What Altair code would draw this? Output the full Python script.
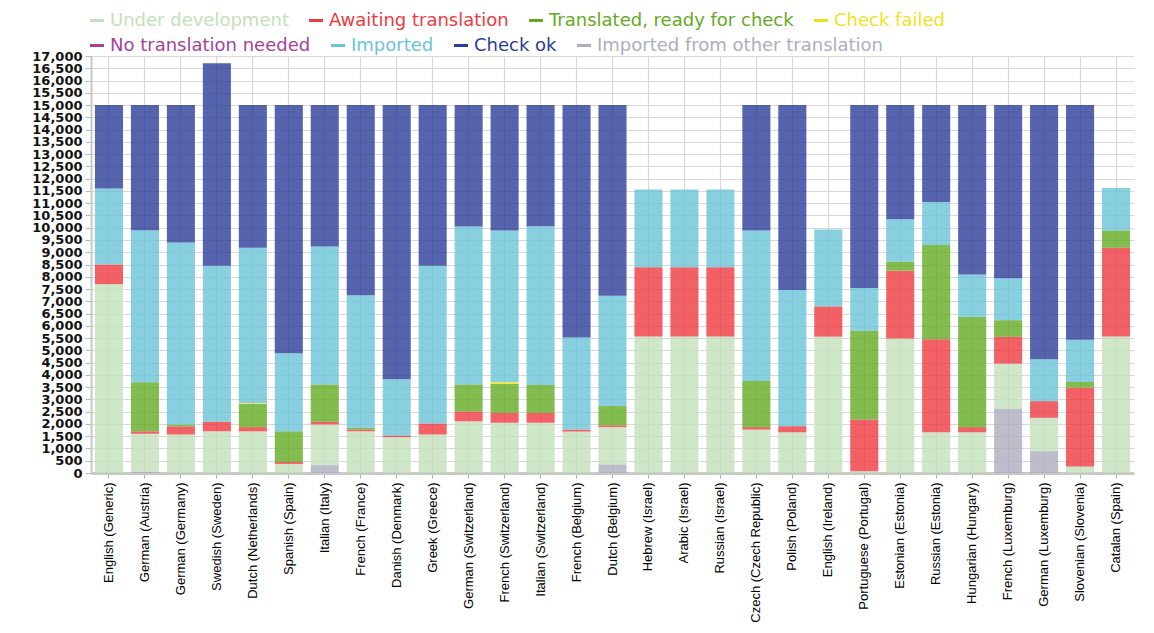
import altair as alt
import pandas as pd

categories = ["English (Generic)", "German (Austria)", "German (Germany)", "Swedish (Sweden)",
              "Dutch (Netherlands)", "Spanish (Spain)", "Italian (Italy)", "French (France)",
              "Danish (Denmark)", "Greek (Greece)", "German (Switzerland)", "French (Switzerland)",
              "Italian (Switzerland)", "French (Belgium)", "Dutch (Belgium)", "Hebrew (Israel)",
              "Arabic (Israel)", "Russian (Israel)", "Czech (Czech Republic)", "Polish (Poland)",
              "English (Ireland)", "Portuguese (Portugal)", "Estonian (Estonia)", "Russian (Estonia)",
              "Hungarian (Hungary)", "French (Luxemburg)", "German (Luxemburg)", "Slovenian (Slovenia)",
              "Catalan (Spain)"]

imported_other = [0, 50, 0, 0, 0, 0, 320, 0, 0, 0, 0, 0, 0, 0, 340, 0, 0, 0, 0, 0, 0, 0, 0, 0, 0, 2620, 890, 0, 0]
under_dev = [7700, 1550, 1570, 1700, 1700, 370, 1660, 1700, 1460, 1570, 2110, 2050, 2050, 1690, 1530,
             5560, 5560, 5560, 1770, 1660, 5560, 70, 5480, 1660, 1660, 1840, 1360, 270, 5560]
awaiting = [800, 100, 330, 390, 170, 80, 110, 70, 70, 450, 400, 400, 400, 80, 70,
            2830, 2830, 2830, 100, 250, 1230, 2110, 2770, 3790, 210, 1090, 680, 3210, 3620]
translated = [0, 2000, 80, 0, 950, 1250, 1520, 70, 0, 0, 1100, 1190, 1140, 0, 790,
              0, 0, 0, 1880, 0, 0, 3620, 370, 3850, 4500, 680, 0, 230, 710]
check_failed = [0, 0, 0, 0, 30, 0, 0, 0, 0, 0, 0, 70, 0, 0, 0,
                0, 0, 0, 0, 0, 0, 0, 0, 0, 0, 0, 0, 0, 0]
no_translation = [0] * 29
imported = [3100, 6200, 7420, 6360, 6330, 3180, 5620, 5410, 2290, 6430, 6440, 6180, 6470, 3750, 4500,
            3170, 3170, 3170, 6140, 5550, 3140, 1740, 1720, 1750, 1720, 1710, 1710, 1720, 1730]
check_ok = [3400, 5100, 5600, 8250, 5820, 10120, 5770, 7750, 11180, 6550, 4950, 5110, 4940, 9480, 7770,
            0, 0, 0, 5110, 7540, 0, 7460, 4660, 3950, 6910, 7060, 10360, 9570, 0]

statuses = ["Under development", "Awaiting translation", "Translated, ready for check", "Check failed",
            "No translation needed", "Imported", "Check ok", "Imported from other translation"]
colors = ["#c4e0bb", "#ee3a3f", "#63aa22", "#f2e21e", "#a8409c", "#6ac4d8", "#2c3c98", "#aeadbf"]
stack_order = {"Imported from other translation": 0, "Under development": 1, "Awaiting translation": 2,
               "Translated, ready for check": 3, "Check failed": 4, "No translation needed": 5,
               "Imported": 6, "Check ok": 7}
series = {"Under development": under_dev, "Awaiting translation": awaiting,
          "Translated, ready for check": translated, "Check failed": check_failed,
          "No translation needed": no_translation, "Imported": imported, "Check ok": check_ok,
          "Imported from other translation": imported_other}

y_ticks = list(range(0, 17001, 500))

rows = []
for s, vals in series.items():
    for c, v in zip(categories, vals):
        rows.append({"language": c, "status": s, "status_row2": s, "value": v, "order": stack_order[s]})
df = pd.DataFrame(rows)

x_enc = alt.X("language:N", sort=categories,
              scale=alt.Scale(paddingInner=0.22, paddingOuter=0.11),
              axis=alt.Axis(title=None, labelAngle=270, labelFont="Liberation Sans", labelFontSize=13,
                            labelColor="#000000", labelPadding=4, tickSize=5, tickColor="#b0b0b0",
                            domainColor="#c8c8c8", domainWidth=3, grid=True, gridColor="#d8d8d8",
                            gridWidth=1.2))
y_enc = alt.Y("value:Q", stack="zero", scale=alt.Scale(domain=[0, 17000], nice=False),
              axis=alt.Axis(title=None, values=y_ticks, format=",d", labelFont="DejaVu Sans",
                            labelFontSize=13, labelFontWeight="bold", labelColor="#111111",
                            labelOverlap=False, labelFlush=False, labelPadding=3, tickSize=6,
                            tickColor="#b8b8b8", domainColor="#c8c8c8", domainWidth=2,
                            gridColor="#d8d8d8", gridWidth=1.2))
order_enc = alt.Order("order:Q", sort="ascending")


def legend(values, scale_name, y):
    return alt.Legend(title=None, orient="none", legendX=-3, legendY=y, direction="horizontal",
                      values=values, symbolType="stroke", symbolStrokeWidth=3, symbolSize=196,
                      symbolOpacity=1,
                      symbolStrokeColor=alt.ExprRef(f"scale('{scale_name}', datum.value)"),
                      labelFont="DejaVu Sans", labelFontSize=18, labelOffset=4, columnPadding=14,
                      labelLimit=400,
                      labelColor=alt.ExprRef(f"scale('{scale_name}', datum.value)"))


bars = alt.Chart(df).mark_bar(opacity=0.8).encode(
    x=x_enc, y=y_enc,
    fill=alt.Fill("status:N", sort=statuses, scale=alt.Scale(domain=statuses, range=colors),
                  legend=legend(statuses[:4], "fill", -44.5)),
    order=order_enc,
)

# second legend row: a layer that draws nothing, only carries the stroke legend
legend_row2 = alt.Chart(df).transform_filter("false").mark_bar().encode(
    x=x_enc, y=y_enc,
    stroke=alt.Stroke("status_row2:N", sort=statuses[4:],
                      scale=alt.Scale(domain=statuses[4:], range=colors[4:]),
                      legend=legend(statuses[4:], "stroke", -19.5)),
    order=order_enc,
)

chart = alt.layer(bars, legend_row2).properties(
    width=1043, height=417,
    autosize=alt.AutoSizeParams(type="none"),
    padding={"left": 83, "top": 48, "right": 12, "bottom": 150},
).configure_view(strokeWidth=0)

chart.save("out.html", embed_options={"renderer": "svg", "actions": False})
